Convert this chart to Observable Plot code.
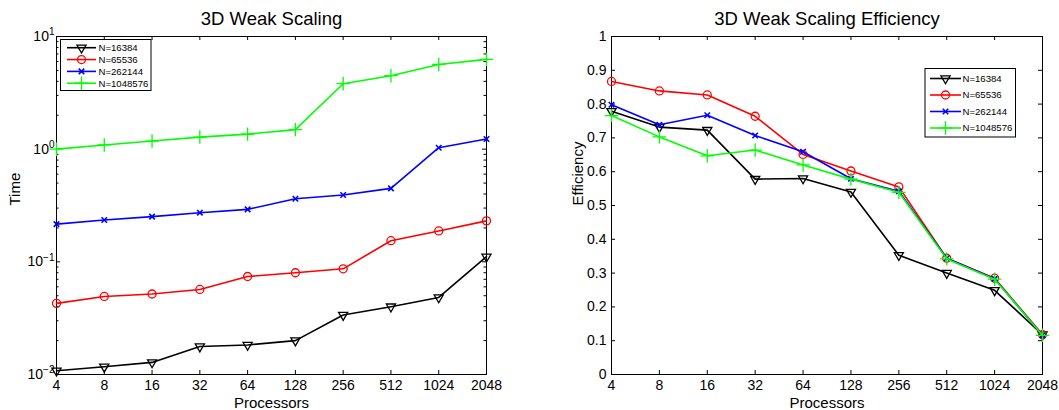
<!DOCTYPE html>
<html><head><meta charset="utf-8">
<script src="https://cdn.jsdelivr.net/npm/d3@7"></script>
<script src="https://cdn.jsdelivr.net/npm/@observablehq/plot@0.6"></script>
<style>
body{margin:0;background:#fff;}
#wrap{position:relative;width:1059px;height:410px;font-family:"Liberation Sans",Arial,sans-serif;}
#wrap svg{position:absolute;top:0;}
</style></head><body><div id="wrap"></div>
<script>
// ---------- data ----------
const processors = [4, 8, 16, 32, 64, 128, 256, 512, 1024, 2048];
const seriesNames = ["N=16384", "N=65536", "N=262144", "N=1048576"];
const seriesColors = ["#000000", "#ff0000", "#0000ff", "#00ff00"];
const seriesSymbols = ["triangle", "circle", "times", "plus"];

const time16384   = [0.0108, 0.0117, 0.0128, 0.0177, 0.0183, 0.0200, 0.0337, 0.0400, 0.0483, 0.111];
const time65536   = [0.0428, 0.0493, 0.0518, 0.0569, 0.0741, 0.0800, 0.0867, 0.154, 0.188, 0.231];
const time262144  = [0.216, 0.235, 0.252, 0.273, 0.292, 0.363, 0.392, 0.449, 1.03, 1.23];
const time1048576 = [1.00, 1.09, 1.18, 1.28, 1.36, 1.49, 3.81, 4.49, 5.65, 6.26];

const eff16384   = [0.779, 0.732, 0.723, 0.578, 0.580, 0.540, 0.353, 0.300, 0.249, 0.118];
const eff65536   = [0.867, 0.839, 0.827, 0.764, 0.651, 0.602, 0.555, 0.344, 0.285, 0.118];
const eff262144  = [0.798, 0.739, 0.767, 0.707, 0.659, 0.579, 0.542, 0.344, 0.283, 0.116];
const eff1048576 = [0.766, 0.703, 0.647, 0.664, 0.620, 0.578, 0.539, 0.342, 0.282, 0.116];

const timeTicks = [0.01, 0.1, 1, 10];
const timeTickExponents = ["\u22122", "\u22121", "0", "1"];
const timeMinorTicks = [];
for (const dec of [0.01, 0.1, 1]) for (let m = 2; m <= 9; m++) timeMinorTicks.push(+(m * dec).toPrecision(3));
const effTicks = [0, 0.1, 0.2, 0.3, 0.4, 0.5, 0.6, 0.7, 0.8, 0.9, 1];
const effTickLabels = ["0", "0.1", "0.2", "0.3", "0.4", "0.5", "0.6", "0.7", "0.8", "0.9", "1"];

// ---------- helpers ----------
const H = 410, MT = 36, MB = 36, INNER_H = H - MT - MB;
const FONT = "Liberation Sans, Arial, Helvetica, sans-serif";
const MARKER_R = [3.4, 4, 2.6, 4.4];
const MARKER_W = [1.3, 1.3, 1.6, 1.3];

function seriesMarks(arrays) {
  const marks = [];
  arrays.forEach((vals, i) => {
    const rows = processors.map((p, j) => ({p, v: vals[j]}));
    marks.push(Plot.line(rows, {x: "p", y: "v", stroke: seriesColors[i], strokeWidth: 1.6}));
    marks.push(Plot.dot(rows, {x: "p", y: "v", stroke: seriesColors[i], fill: "none", strokeWidth: MARKER_W[i],
      symbol: seriesSymbols[i], r: MARKER_R[i], rotate: i === 0 ? 180 : 0}));
  });
  return marks;
}

function makeChart(cfg) {
  const innerW = cfg.width - cfg.marginLeft - cfg.marginRight;
  const marks = [
    Plot.frame({stroke: "black", strokeWidth: 1}),
    Plot.tickX(processors, {x: d => d, insetTop: INNER_H - 4, stroke: "black"}),
    Plot.tickX(processors, {x: d => d, insetBottom: INNER_H - 4, stroke: "black"}),
    Plot.tickY(cfg.yTicks, {y: d => d, insetRight: innerW - 4, stroke: "black"}),
    Plot.tickY(cfg.yTicks, {y: d => d, insetLeft: innerW - 4, stroke: "black"}),
  ];
  if (cfg.minor) {
    marks.push(Plot.tickY(cfg.minor, {y: d => d, insetRight: innerW - 2.5, stroke: "black"}));
    marks.push(Plot.tickY(cfg.minor, {y: d => d, insetLeft: innerW - 2.5, stroke: "black"}));
  }
  marks.push(
    Plot.axisX(processors, {tickSize: 0, tickPadding: 6, fontSize: 14, tickFormat: d => String(d), label: null}),
    Plot.axisY(cfg.yTicks, {tickSize: 0, tickPadding: cfg.yPad, fontSize: 14, tickFormat: cfg.yFormat, label: null}),
    Plot.text([cfg.title], {text: d => d, frameAnchor: "top", dy: -12, lineAnchor: "bottom", fontSize: 18.5}),
    Plot.text(["Processors"], {text: d => d, frameAnchor: "bottom", dy: 33, lineAnchor: "bottom", fontSize: 15}),
    Plot.text([cfg.ylabel], {text: d => d, frameAnchor: "left", dx: cfg.ylabelDx, rotate: -90, fontSize: 15}),
    ...seriesMarks(cfg.series)
  );
  return Plot.plot({
    width: cfg.width, height: H,
    marginLeft: cfg.marginLeft, marginRight: cfg.marginRight, marginTop: MT, marginBottom: MB,
    x: {type: "log", base: 2, domain: [4, 2048]},
    y: cfg.yScale,
    style: {fontFamily: FONT, fontSize: "14px", color: "black", background: "white", overflow: "visible"},
    marks
  });
}

function addLegend(svg, L) {
  const g = d3.select(svg).append("g").attr("font-family", FONT).attr("font-size", 9.6)
    .attr("text-anchor", "start");
  g.append("rect").attr("x", L.x).attr("y", L.y).attr("width", L.w).attr("height", L.h)
    .attr("fill", "white").attr("stroke", "black").attr("stroke-width", 1);
  const types = {triangle: d3.symbolTriangle, circle: d3.symbolCircle, times: d3.symbolTimes, plus: d3.symbolPlus};
  seriesNames.forEach((name, i) => {
    const cy = L.row0 + i * L.dy;
    const r = MARKER_R[i];
    g.append("line").attr("x1", L.lx1).attr("x2", L.lx2).attr("y1", cy).attr("y2", cy)
      .attr("stroke", seriesColors[i]).attr("stroke-width", 1.6);
    g.append("path").attr("d", d3.symbol(types[seriesSymbols[i]], Math.PI * r * r)())
      .attr("transform", `translate(${(L.lx1 + L.lx2) / 2},${cy})` + (i === 0 ? " rotate(180)" : ""))
      .attr("fill", "none").attr("stroke", seriesColors[i]).attr("stroke-width", MARKER_W[i]);
    g.append("text").attr("x", L.tx).attr("y", cy).attr("dy", "0.35em").attr("text-anchor", "start").text(name);
  });
}

// ---------- left: time ----------
const left = makeChart({
  width: 530, marginLeft: 56, marginRight: 44,
  yScale: {type: "log", domain: [0.01, 10]},
  yTicks: timeTicks, minor: timeMinorTicks, yPad: 2,
  yFormat: d => "10|" + timeTickExponents[timeTicks.indexOf(d)],
  title: "3D Weak Scaling", ylabel: "Time", ylabelDx: -41,
  series: [time16384, time65536, time262144, time1048576]
});
left.style.left = "0px";
d3.select(left).selectAll('g[aria-label="y-axis tick label"] text').each(function () {
  const parts = this.textContent.split("|");
  const t = d3.select(this);
  t.text(parts[0]);
  t.append("tspan").attr("dy", "-0.55em").attr("font-size", 10).text(parts[1]);
});
addLegend(left, {x: 60.5, y: 39.5, w: 90.5, h: 51, row0: 47.7, dy: 11.85, lx1: 67, lx2: 96, tx: 98.5});

// ---------- right: efficiency ----------
const right = makeChart({
  width: 529, marginLeft: 81, marginRight: 17,
  yScale: {domain: [0, 1]},
  yTicks: effTicks, yPad: 5,
  yFormat: d => effTickLabels[effTicks.indexOf(d)],
  title: "3D Weak Scaling Efficiency", ylabel: "Efficiency", ylabelDx: -33.7,
  series: [eff16384, eff65536, eff262144, eff1048576]
});
right.style.left = "530px";
addLegend(right, {x: 395, y: 68.5, w: 90.5, h: 68.5, row0: 78.5, dy: 16.5, lx1: 400, lx2: 431, tx: 432.5});

document.getElementById("wrap").append(left, right);
</script></body></html>
